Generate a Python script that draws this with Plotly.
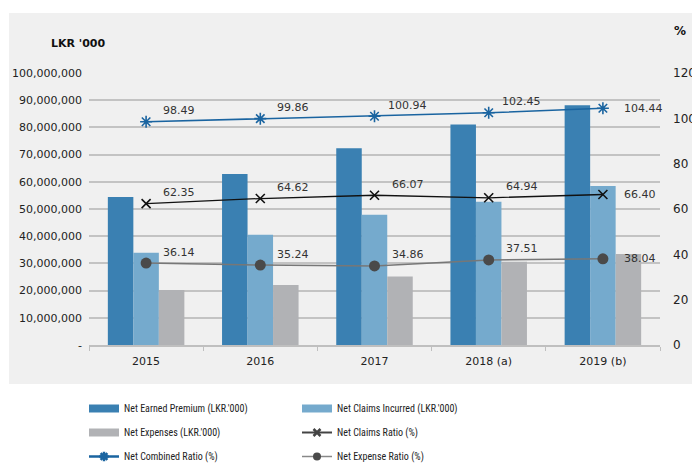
import plotly.graph_objects as go

years = ["2015", "2016", "2017", "2018 (a)", "2019 (b)"]
net_earned_premium = [54400000, 62900000, 72300000, 81100000, 88100000]
net_claims_incurred = [33900000, 40500000, 47900000, 52700000, 58500000]
net_expenses = [20200000, 22100000, 25200000, 30600000, 33500000]
net_claims_ratio = [62.35, 64.62, 66.07, 64.94, 66.40]
net_combined_ratio = [98.49, 99.86, 100.94, 102.45, 104.44]
net_expense_ratio = [36.14, 35.24, 34.86, 37.51, 38.04]

left_ticks = list(range(0, 100000001, 10000000))
left_labels = ["-"] + [f"{v:,}" for v in left_ticks[1:]]

C_PREMIUM = "#3a80b2"
C_CLAIMS = "#75aacd"
C_EXPENSES = "#b1b2b5"
C_COMBINED = "#1a64a0"
C_CLAIMS_RATIO = "#111111"
C_EXPENSE_RATIO = "#777777"
C_EXP_MARKER = "#4a4a4a"

FONT = "DejaVu Sans"
LEG_FONT = "Liberation Sans Narrow, Roboto Condensed, Roboto, sans-serif"

fig = go.Figure()

# grouped bars on the left (LKR '000) axis
for name, vals, col in [
    ("Net Earned Premium (LKR.'000)", net_earned_premium, C_PREMIUM),
    ("Net Claims Incurred (LKR.'000)", net_claims_incurred, C_CLAIMS),
    ("Net Expenses (LKR.'000)", net_expenses, C_EXPENSES),
]:
    fig.add_trace(go.Bar(x=years, y=vals, name=name, marker_color=col,
                         marker_line_width=0, showlegend=False, yaxis="y"))

# ratio lines on the right (%) axis
fig.add_trace(go.Scatter(x=years, y=net_combined_ratio, mode="lines+markers",
                         line=dict(color=C_COMBINED, width=1.6),
                         marker=dict(symbol="asterisk-open", size=10,
                                     line=dict(color=C_COMBINED, width=1.6)),
                         showlegend=False, yaxis="y2"))
fig.add_trace(go.Scatter(x=years, y=net_claims_ratio, mode="lines+markers",
                         line=dict(color=C_CLAIMS_RATIO, width=1.3),
                         marker=dict(symbol="x-thin-open", size=9,
                                     line=dict(color=C_CLAIMS_RATIO, width=1.6)),
                         showlegend=False, yaxis="y2"))
fig.add_trace(go.Scatter(x=years, y=net_expense_ratio, mode="lines+markers",
                         line=dict(color=C_EXPENSE_RATIO, width=1.5),
                         marker=dict(symbol="circle", size=11, color=C_EXP_MARKER),
                         showlegend=False, yaxis="y2"))

# value labels for the ratio lines (x given as category index)
for series in (net_combined_ratio, net_claims_ratio, net_expense_ratio):
    for i, v in enumerate(series):
        last = i == len(years) - 1
        fig.add_annotation(x=i, y=v, xref="x", yref="y2", text=f"{v:.2f}",
                           showarrow=False,
                           xanchor="left" if last else "center",
                           yanchor="middle",
                           xshift=19 if last else 33,
                           yshift=0 if last else 11,
                           font=dict(family=FONT, size=11, color="#333333"))

# legend entries (two columns)
legend_items = [
    ("Net Earned Premium (LKR.'000)", dict(color=C_PREMIUM, width=8), None, "legend"),
    ("Net Expenses (LKR.'000)", dict(color=C_EXPENSES, width=8), None, "legend"),
    ("Net Combined Ratio (%)", dict(color=C_COMBINED, width=2.5),
     dict(symbol="asterisk-open", size=8, line=dict(color=C_COMBINED, width=2.5)), "legend"),
    ("Net Claims Incurred (LKR.'000)", dict(color=C_CLAIMS, width=8), None, "legend2"),
    ("Net Claims Ratio (%)", dict(color="#444444", width=2),
     dict(symbol="x-thin-open", size=7, line=dict(color="#111111", width=2.5)), "legend2"),
    ("Net Expense Ratio (%)", dict(color="#888888", width=1.5),
     dict(symbol="circle", size=8, color=C_EXP_MARKER), "legend2"),
]
for k, (name, line, marker, lg) in enumerate(legend_items):
    kw = dict(x=[years[0]], y=[None], name=name, line=line, legend=lg,
              legendgroup=f"g{k}", showlegend=True, yaxis="y2")
    if marker is None:
        kw["mode"] = "lines"
    else:
        kw["mode"] = "lines+markers"
        kw["marker"] = marker
    fig.add_trace(go.Scatter(**kw))

W, H = 692, 463
ML, MR, MT, MB = 89, 32, 73, 118
pw, ph = W - ML - MR, H - MT - MB

def px_x(p):
    return (p - ML) / pw

def px_y(p):
    return (H - MB - p) / ph

# grey panel behind the chart
fig.add_shape(type="rect", xref="paper", yref="paper", layer="below",
              x0=px_x(9), x1=px_x(700), y0=px_y(384), y1=px_y(13),
              fillcolor="#f0f0f0", line_width=0)

fig.add_annotation(xref="paper", yref="paper", x=px_x(49), y=px_y(44),
                   xanchor="left", yanchor="middle", showarrow=False,
                   text="<b>LKR '000</b>",
                   font=dict(family=FONT, size=11, color="#111111"))
fig.add_annotation(xref="paper", yref="paper", x=px_x(672), y=px_y(31),
                   xanchor="left", yanchor="middle", showarrow=False,
                   text="<b>%</b>",
                   font=dict(family=FONT, size=12, color="#111111"))

leg_common = dict(orientation="v", xanchor="left", yanchor="top",
                  bgcolor="rgba(0,0,0,0)", tracegroupgap=5,
                  font=dict(family=LEG_FONT, size=10, color="#222222"),
                  itemwidth=30)

fig.update_layout(
    width=W, height=H,
    margin=dict(l=ML, r=MR, t=MT, b=MB, autoexpand=False),
    paper_bgcolor="white", plot_bgcolor="rgba(0,0,0,0)",
    barmode="group", bargap=0.33, bargroupgap=0,
    font=dict(family=FONT, size=11, color="#222222"),
    xaxis=dict(type="category", categoryorder="array", categoryarray=years,
               range=[-0.5, len(years) - 0.5], tickangle=0,
               showgrid=False, ticks="outside",
               tickson="boundaries", ticklen=4, tickcolor="#bfbfbf",
               showline=True, linecolor="#bfbfbf", linewidth=1.5,
               ticklabelstandoff=5,
               tickfont=dict(family=FONT, size=11, color="#222222")),
    yaxis=dict(range=[0, 100000000], tickvals=left_ticks, ticktext=left_labels,
               showgrid=True, gridcolor="#c3c3c3", gridwidth=1.5,
               zeroline=False, showline=False, ticks="", ticklabelstandoff=6,
               tickfont=dict(family=FONT, size=11, color="#222222")),
    yaxis2=dict(range=[0, 120], dtick=20, overlaying="y", side="right",
                showgrid=False, zeroline=False, showline=False,
                ticks="", ticklabelstandoff=12,
                tickfont=dict(family=FONT, size=12, color="#222222")),
    legend=dict(x=px_x(84), y=px_y(394), **leg_common),
    legend2=dict(x=px_x(297), y=px_y(394), **leg_common),
)

fig.write_html("out.html")
